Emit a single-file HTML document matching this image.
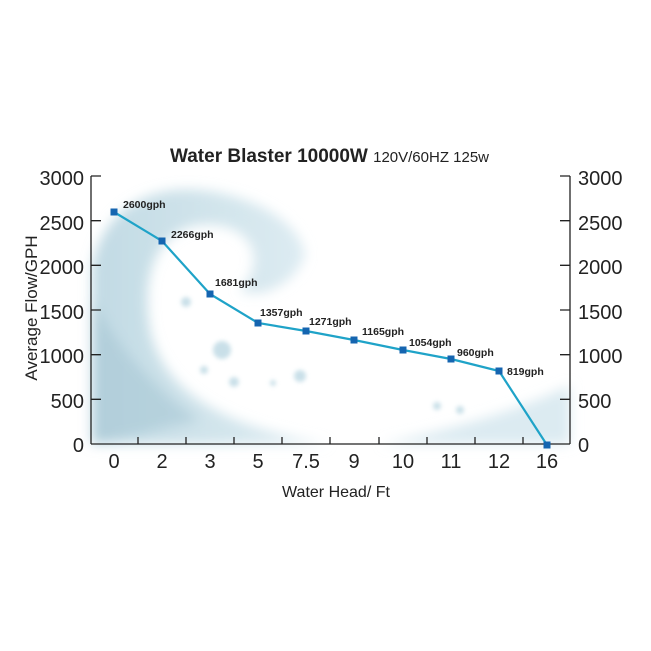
<!DOCTYPE html>
<html><head><style>
html,body{margin:0;padding:0;background:#fff;width:651px;height:651px;overflow:hidden}
svg{display:block}
text{font-family:"Liberation Sans",sans-serif}
</style></head><body>
<svg width="651" height="651" viewBox="0 0 651 651" xmlns="http://www.w3.org/2000/svg">
<defs>
<filter id="b" x="-20%" y="-20%" width="140%" height="140%"><feGaussianBlur stdDeviation="6"/></filter>
<filter id="b2"><feGaussianBlur stdDeviation="2"/></filter>
<linearGradient id="g1" x1="0" y1="0" x2="1" y2="0"><stop offset="0" stop-color="#b2d1dd"/><stop offset="1" stop-color="#d9eaf1"/></linearGradient>
</defs>
<g filter="url(#b)">
<path d="M92 270 C100 210 150 185 200 190 C250 195 300 220 305 255 C295 285 260 300 240 290 C270 260 250 220 200 225 C160 230 140 270 150 330 C165 400 240 430 330 444 L92 444 Z" fill="url(#g1)" opacity="0.8"/>
<path d="M92 300 C110 330 140 380 200 420 L92 444 Z" fill="#a8c8d5" opacity="0.6"/>
<path d="M380 444 C450 430 520 410 570 385 L570 444 Z" fill="#d3e6ee" opacity="0.8"/>
</g>
<g filter="url(#b2)" fill="#bcd8e3" opacity="0.8">
<circle cx="222" cy="350" r="9"/><circle cx="204" cy="370" r="4"/><circle cx="234" cy="382" r="5"/>
<circle cx="300" cy="376" r="6"/><circle cx="186" cy="302" r="5"/><circle cx="273" cy="383" r="3"/>
<circle cx="437" cy="406" r="4"/><circle cx="460" cy="410" r="4"/>
</g>
<g stroke="#222" stroke-width="1.3" fill="none">
<line x1="91" y1="176" x2="91" y2="444"/>
<line x1="570" y1="176" x2="570" y2="444"/>
<line x1="91" y1="444" x2="570" y2="444"/>
<path d="M91 176h10M91 220.7h10M91 265.3h10M91 310h10M91 354.7h10M91 399.3h10"/>
<path d="M570 176h-10M570 220.7h-10M570 265.3h-10M570 310h-10M570 354.7h-10M570 399.3h-10"/>
<path d="M138 444v-7M186 444v-7M234 444v-7M282 444v-7M330 444v-7M379 444v-7M427 444v-7M475 444v-7M523 444v-7"/>
</g>
<g font-size="20" fill="#222" text-anchor="end">
<text x="84" y="185">3000</text><text x="84" y="230">2500</text><text x="84" y="274">2000</text>
<text x="84" y="319">1500</text><text x="84" y="363">1000</text><text x="84" y="408">500</text><text x="84" y="452">0</text>
</g>
<g font-size="20" fill="#222" text-anchor="start">
<text x="578" y="185">3000</text><text x="578" y="230">2500</text><text x="578" y="274">2000</text>
<text x="578" y="319">1500</text><text x="578" y="363">1000</text><text x="578" y="408">500</text><text x="578" y="452">0</text>
</g>
<g font-size="20" fill="#222" text-anchor="middle">
<text x="114" y="468">0</text><text x="162" y="468">2</text><text x="210" y="468">3</text><text x="258" y="468">5</text>
<text x="306" y="468">7.5</text><text x="354" y="468">9</text><text x="403" y="468">10</text><text x="451" y="468">11</text>
<text x="499" y="468">12</text><text x="547" y="468">16</text>
</g>
<text x="336" y="497" font-size="16" fill="#222" text-anchor="middle">Water Head/ Ft</text>
<text transform="translate(37 308) rotate(-90)" font-size="17" fill="#222" text-anchor="middle">Average Flow/GPH</text>
<text x="170" y="162" font-size="19" font-weight="bold" fill="#222">Water Blaster 10000W <tspan font-weight="normal" font-size="15">120V/60HZ  125w</tspan></text>
<polyline points="114,212 162,241 210,294 258,323 306,331 354,340 403,350 451,359 499,371 547,445" fill="none" stroke="#1fa3c8" stroke-width="2.2"/>
<g fill="#1565b0">
<rect x="110.5" y="208.5" width="7" height="7"/><rect x="158.5" y="237.5" width="7" height="7"/><rect x="206.5" y="290.5" width="7" height="7"/>
<rect x="254.5" y="319.5" width="7" height="7"/><rect x="302.5" y="327.5" width="7" height="7"/><rect x="350.5" y="336.5" width="7" height="7"/>
<rect x="399.5" y="346.5" width="7" height="7"/><rect x="447.5" y="355.5" width="7" height="7"/><rect x="495.5" y="367.5" width="7" height="7"/>
<rect x="543.5" y="441.5" width="7" height="7"/>
</g>
<g font-size="10.5" font-weight="bold" fill="#222">
<text x="123" y="208">2600gph</text><text x="171" y="238">2266gph</text><text x="215" y="286">1681gph</text>
<text x="260" y="316">1357gph</text><text x="309" y="325">1271gph</text><text x="362" y="335">1165gph</text>
<text x="409" y="346">1054gph</text><text x="457" y="356">960gph</text><text x="507" y="375">819gph</text>
</g>
</svg>
</body></html>
